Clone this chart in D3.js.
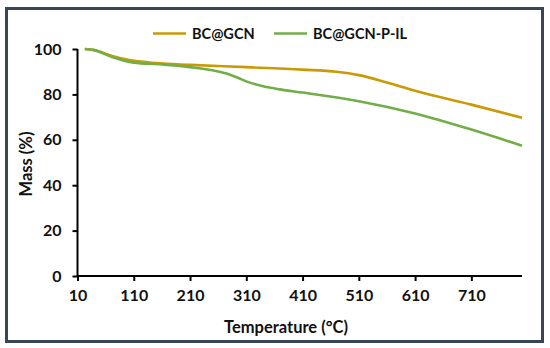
<!DOCTYPE html>
<html>
<head>
<meta charset="utf-8">
<script src="https://cdn.jsdelivr.net/npm/d3@7"></script>
<style>
  body { margin: 0; background: #fff; }
  svg text { font-family: Lato, "Liberation Sans", sans-serif; font-weight: bold; fill: #111; }
</style>
</head>
<body>
<svg id="chart" width="550" height="348"></svg>
<script>
// series
const seriesNames = ['BC@GCN', 'BC@GCN-P-IL'];
const seriesColors = ['#c99a06', '#72ae48'];
const tempBC = [23, 40, 70, 100, 150, 210, 310, 410, 470, 510, 560, 610, 710, 800];
const massBC = [100, 99.5, 97, 95.2, 93.8, 93, 92, 90.9, 90, 88.5, 85.2, 81.6, 75.5, 69.7];
const tempIL = [23, 40, 70, 110, 160, 210, 250, 275, 295, 315, 340, 370, 410, 510, 610, 710, 800];
const massIL = [100, 99.5, 96.6, 94, 93.2, 92, 90.6, 89.2, 87.3, 85.3, 83.6, 82.2, 80.8, 77, 71.6, 64.5, 57.4];
const xTicks = [10, 110, 210, 310, 410, 510, 610, 710];
const yTicks = [0, 20, 40, 60, 80, 100];

const svg = d3.select('#chart');

// outer frame
svg.append('rect')
    .attr('x', 6.5).attr('y', 8.5)
    .attr('width', 536).attr('height', 333)
    .attr('fill', 'none')
    .attr('stroke', '#3a4656')
    .attr('stroke-width', 3);

const x = d3.scaleLinear().domain([10, 800]).range([77.5, 522]);
const y = d3.scaleLinear().domain([0, 100]).range([276, 49]);

// axes
const xAxis = svg.append('g')
    .attr('transform', 'translate(0,' + y(0) + ')')
    .call(d3.axisBottom(x).tickValues(xTicks).tickSize(5).tickPadding(9));
const yAxis = svg.append('g')
    .attr('transform', 'translate(' + x(10) + ',0)')
    .call(d3.axisLeft(y).tickValues(yTicks).tickSize(5).tickPadding(11));

[xAxis, yAxis].forEach((g) => {
    g.select('.domain').attr('stroke', '#000').attr('stroke-width', 2);
    g.selectAll('.tick line').attr('stroke', '#000').attr('stroke-width', 2);
    g.selectAll('.tick text').style('font-size', '16px').attr('fill', '#111');
});
xAxis.select('.domain').attr('d', 'M' + x(10) + ',0H' + x(800));
yAxis.select('.domain').attr('d', 'M0,' + y(100) + 'V' + y(0));

// axis titles
svg.append('text')
    .attr('x', 286).attr('y', 333)
    .attr('text-anchor', 'middle')
    .style('font-size', '16.5px')
    .text('Temperature (°C)');
svg.append('text')
    .attr('transform', 'translate(32,164) rotate(-90)')
    .attr('text-anchor', 'middle')
    .style('font-size', '16.5px')
    .text('Mass (%)');

// lines
const line = d3.line()
    .x((d) => x(d[0]))
    .y((d) => y(d[1]))
    .curve(d3.curveMonotoneX);

const seriesData = [
    d3.zip(tempBC, massBC),
    d3.zip(tempIL, massIL)
];

svg.selectAll('.series')
    .data(seriesData)
    .enter()
    .append('path')
    .attr('class', 'series')
    .attr('d', line)
    .attr('fill', 'none')
    .attr('stroke', (d, i) => seriesColors[i])
    .attr('stroke-width', 2.6);

// legend
const legendX = [153, 274];
const legend = svg.selectAll('.legend')
    .data(seriesNames)
    .enter()
    .append('g')
    .attr('class', 'legend')
    .attr('transform', (d, i) => 'translate(' + legendX[i] + ',33.5)');
legend.append('line')
    .attr('x1', 0).attr('x2', 33)
    .attr('stroke', (d, i) => seriesColors[i])
    .attr('stroke-width', 2.6);
legend.append('text')
    .attr('x', 39).attr('dy', '0.35em')
    .style('font-size', '14.5px')
    .text((d) => d);
</script>
</body>
</html>
